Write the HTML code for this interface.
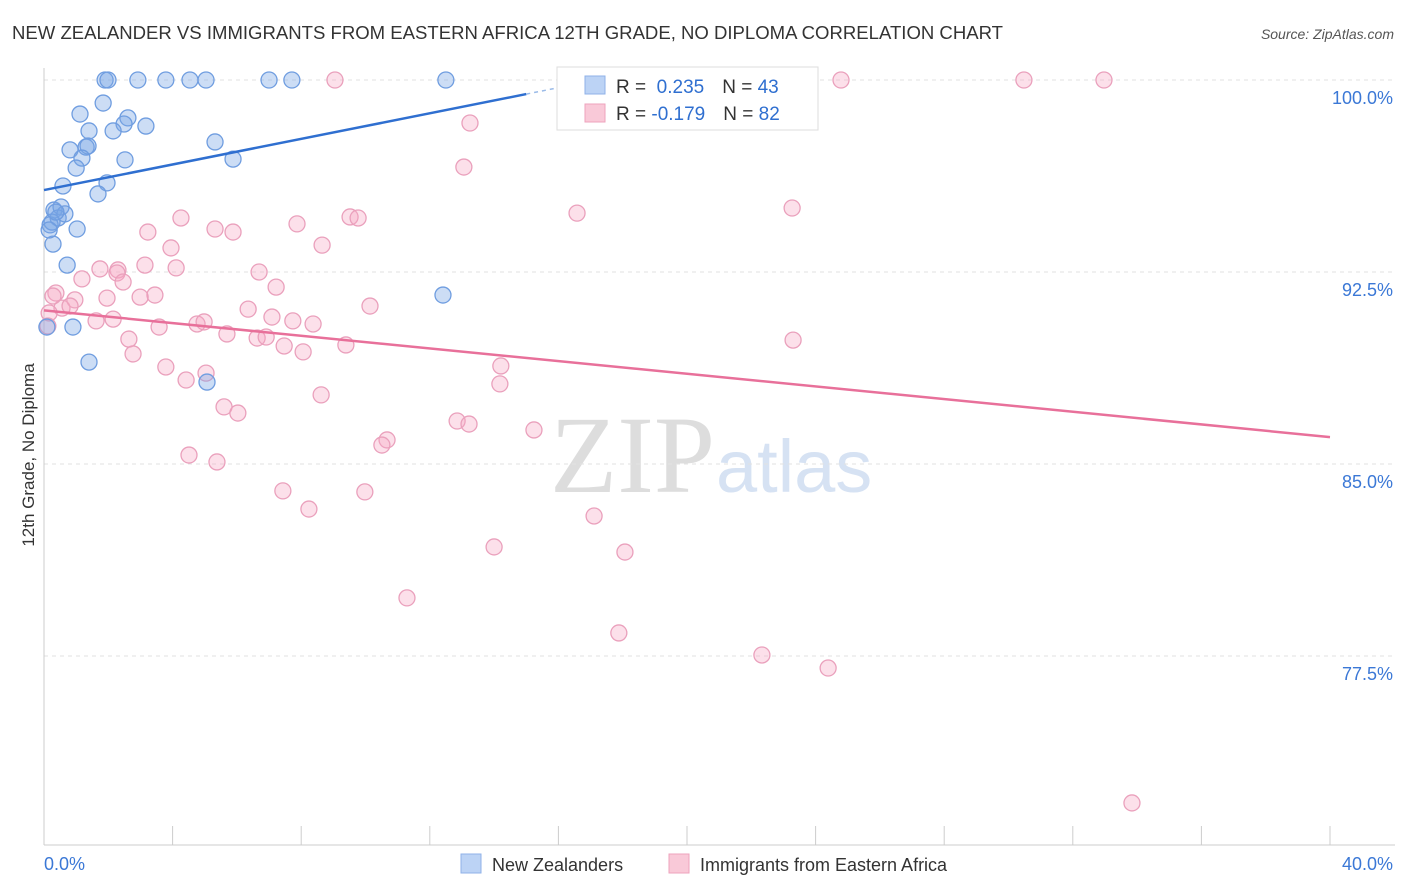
<!DOCTYPE html>
<html><head><meta charset="utf-8"><style>
body{margin:0;background:#fff;font-family:"Liberation Sans",sans-serif}
svg{display:block}
</style></head><body>
<svg id="c" width="1406" height="892">
<text x="12" y="39" font-size="18.5" fill="#333" textLength="991" lengthAdjust="spacingAndGlyphs">NEW ZEALANDER VS IMMIGRANTS FROM EASTERN AFRICA 12TH GRADE, NO DIPLOMA CORRELATION CHART</text>
<text x="1394" y="39" font-size="14" fill="#555" font-style="italic" text-anchor="end">Source: ZipAtlas.com</text>
<text x="34" y="455" font-size="17" fill="#333" text-anchor="middle" transform="rotate(-90 34 455)">12th Grade, No Diploma</text>
<text x="715" y="492" font-size="110" fill="#ddd" text-anchor="end" font-family="Liberation Serif,serif">ZIP</text>
<text x="716" y="492" font-size="74" fill="#d6e2f3">atlas</text>
<g id="grid"></g><g id="pts"></g><g id="lines"></g>
<g>
<rect x="557" y="67" width="261" height="63" fill="#fff" stroke="#ddd"/>
<rect x="585" y="76" width="20" height="18" fill="#bcd3f5" stroke="#8fb2e8"/>
<rect x="585" y="104" width="20" height="18" fill="#f9c9d8" stroke="#eea3bd"/>
<text x="616" y="93" font-size="19" fill="#333">R = <tspan fill="#2f6fd0">&#160;0.235</tspan><tspan dx="18">N = </tspan><tspan fill="#2f6fd0">43</tspan></text>
<text x="616" y="120" font-size="19" fill="#333">R = <tspan fill="#2f6fd0">-0.179</tspan><tspan dx="18">N = </tspan><tspan fill="#2f6fd0">82</tspan></text>
</g>
<g>
<rect x="461" y="854" width="20" height="19" fill="#bcd3f5" stroke="#8fb2e8"/>
<text x="492" y="871" font-size="18" fill="#333">New Zealanders</text>
<rect x="669" y="854" width="20" height="19" fill="#f9c9d8" stroke="#eea3bd"/>
<text x="700" y="871" font-size="18" fill="#333">Immigrants from Eastern Africa</text>
</g>
</svg>
<script>
const yTicks=[100,92.5,85,77.5];
const yTickLabels=["100.0%","92.5%","85.0%","77.5%"];
const xTickLabels=["0.0%","40.0%"];
const bluePx=[[105,80],[108,80],[138,80],[166,80],[190,80],[206,80],[269,80],[292,80],[446,80],[103,103],[80,114],[128,118],[124,124],[146,126],[89,131],[113,131],[215,142],[70,150],[86,147],[88,146],[82,158],[125,160],[233,159],[76,168],[63,186],[107,183],[98,194],[54,210],[61,207],[58,218],[65,214],[50,225],[77,229],[53,244],[67,265],[443,295],[73,327],[89,362],[207,382],[47,327],[52,222],[56,212],[49,230]];
const pinkPx=[[335,80],[597,80],[841,80],[1024,80],[1104,80],[470,123],[464,167],[577,213],[792,208],[181,218],[350,217],[358,218],[297,224],[215,229],[233,232],[148,232],[322,245],[171,248],[145,265],[118,270],[100,269],[176,268],[259,272],[117,273],[82,279],[123,282],[276,287],[56,293],[155,295],[107,298],[140,297],[75,300],[370,306],[248,309],[62,308],[70,306],[49,313],[272,317],[113,319],[96,321],[293,321],[313,324],[197,324],[204,322],[159,327],[227,334],[257,338],[266,337],[129,339],[346,345],[793,340],[284,346],[303,352],[133,354],[166,367],[501,366],[206,373],[186,380],[500,384],[321,395],[224,407],[238,413],[457,421],[469,424],[534,430],[387,440],[382,445],[189,455],[217,462],[283,491],[365,492],[309,509],[594,516],[494,547],[625,552],[407,598],[619,633],[762,655],[828,668],[1132,803],[48,326],[53,296]];
const blueX=bluePx.map(p=>+((p[0]-44)/1286*40).toFixed(2));
const blueY=bluePx.map(p=>+(100-(p[1]-80)/25.6).toFixed(2));
const pinkX=pinkPx.map(p=>+((p[0]-44)/1286*40).toFixed(2));
const pinkY=pinkPx.map(p=>+(100-(p[1]-80)/25.6).toFixed(2));
const blueTrend=[[0,95.7],[15.0,99.45]];
const pinkTrend=[[0,91.0],[40,86.05]];
const sx=v=>44+v/40*1286, sy=v=>80+(100-v)*25.6;
const NS="http://www.w3.org/2000/svg";
function mk(t,a,parent){const e=document.createElementNS(NS,t);for(const k in a)e.setAttribute(k,a[k]);parent.appendChild(e);return e;}
const grid=document.getElementById('grid'),pts=document.getElementById('pts'),lines=document.getElementById('lines');
yTicks.forEach((v,i)=>{
 const l=mk('line',{x1:44,x2:1395,y1:sy(v),y2:sy(v),stroke:'#e2e2e2','stroke-dasharray':'4,4'},grid);
 
 
 const t=mk('text',{x:1393,y:sy(v)+24,'font-size':18,fill:'#3b78d6','text-anchor':'end'},grid);
 t.textContent=yTickLabels[i];
 
 
});
mk('line',{x1:44,x2:44,y1:68,y2:845,stroke:'#ccc'},grid);
mk('line',{x1:44,x2:1395,y1:845,y2:845,stroke:'#ccc'},grid);
for(let i=0;i<=10;i++){const x=sx(i*4);const tk=mk('line',{x1:x,x2:x,y1:826,y2:845,stroke:'#ccc'},grid);
 
 }
[[0,44,'start'],[1,1393,'end']].forEach(([i,x,a])=>{const t=mk('text',{x:x,y:870,'font-size':18,fill:'#3b78d6','text-anchor':a},grid);t.textContent=xTickLabels[i];
 
 });
pinkX.forEach((x,i)=>{const c=mk('circle',{cx:sx(x),cy:sy(pinkY[i]),r:8,fill:'rgba(245,165,195,0.35)',stroke:'#eaa0bc','stroke-width':1.3},pts);
 
 });
blueX.forEach((x,i)=>{const c=mk('circle',{cx:sx(x),cy:sy(blueY[i]),r:8,fill:'rgba(120,165,230,0.38)',stroke:'#6f9de0','stroke-width':1.3},pts);
 
 });
let bl=mk('line',{x1:sx(blueTrend[0][0]),y1:sy(blueTrend[0][1]),x2:sx(blueTrend[1][0]),y2:sy(blueTrend[1][1]),stroke:'#2f6fd0','stroke-width':2.5},lines);


let bd=mk('line',{x1:sx(blueTrend[1][0]),y1:sy(blueTrend[1][1]),x2:sx(17.7),y2:sy(99.45+2.7*3.75/15),stroke:'#9bbbe8','stroke-width':1.5,'stroke-dasharray':'4,4'},lines);


let pl=mk('line',{x1:sx(pinkTrend[0][0]),y1:sy(pinkTrend[0][1]),x2:sx(pinkTrend[1][0]),y2:sy(pinkTrend[1][1]),stroke:'#e8709a','stroke-width':2.5},lines);


</script>
</body></html>
